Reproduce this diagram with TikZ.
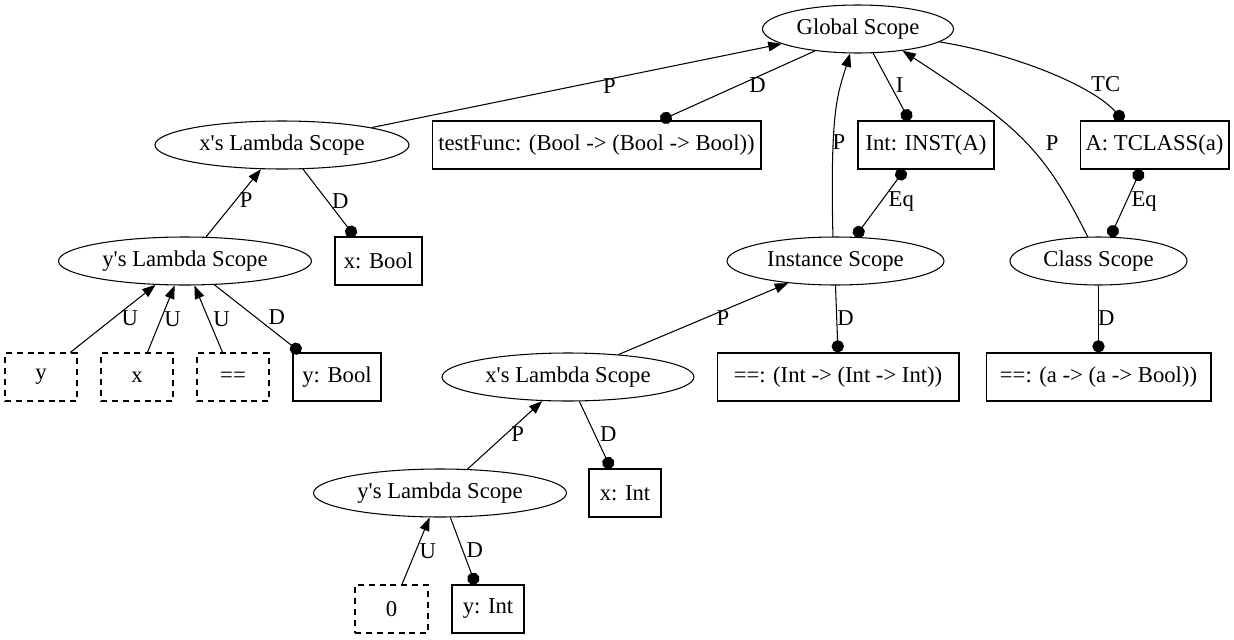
\documentclass[tikz,border=0pt]{standalone}
\usepackage{fontspec}
\setmainfont{Liberation Serif}
\usepackage{tikz}
\usetikzlibrary{shapes.geometric,arrows.meta}
\newcommand{\q}{\textquotesingle}
\tikzset{
  scopenode/.style={ellipse, draw, inner sep=0pt, minimum height=0.96cm},
  declbox/.style={rectangle, draw, inner sep=0pt, minimum height=0.96cm},
  usebox/.style={declbox, dash pattern=on 3.4pt off 2.8pt},
  parent/.style={-{Triangle[length=7.6pt,width=5.6pt]}},
  decl/.style={-{Circle[length=7pt]}},
  eqlink/.style={{Circle[length=7pt]}-{Circle[length=7pt]}},
  lbl/.style={inner sep=0pt},
}

\begin{document}
\begin{tikzpicture}[x=0.02cm, y=-0.02cm, line width=0.6pt, font=\fontsize{12.9}{15}\selectfont]
  \useasboundingbox (0,0) rectangle (1234,639);
  % Scopes
  \node[scopenode, minimum width=3.82cm] (gs)  at (858,29)    {Global Scope};
  \node[scopenode, minimum width=5.08cm] (xl1) at (282,145)   {x\q s Lambda Scope};
  \node[scopenode, minimum width=5.06cm] (yl1) at (185,261)   {y\q s Lambda Scope};
  \node[scopenode, minimum width=4.34cm] (is)  at (835.5,261) {Instance Scope};
  \node[scopenode, minimum width=3.54cm] (cs)  at (1098.5,261) {Class Scope};
  \node[scopenode, minimum width=5.04cm] (xl2) at (568,377)   {x\q s Lambda Scope};
  \node[scopenode, minimum width=5.06cm] (yl2) at (440,493)   {y\q s Lambda Scope};
  % Declarations
  \node[declbox, minimum width=6.58cm] (tf) at (596.5,145)  {testFunc: (Bool -> (Bool -> Bool))};
  \node[declbox, minimum width=2.72cm] (ia) at (926,145)    {Int: INST(A)};
  \node[declbox, minimum width=2.98cm] (tc) at (1154.5,145) {A: TCLASS(a)};
  \node[declbox, minimum width=1.74cm] (xb) at (378.5,261)  {x: Bool};
  \node[declbox, minimum width=1.76cm] (yb) at (337,377)    {y: Bool};
  \node[declbox, minimum width=4.84cm] (ei) at (838,377)    {==: (Int -> (Int -> Int))};
  \node[declbox, minimum width=4.50cm] (ea) at (1098.5,377) {==: (a -> (a -> Bool))};
  \node[declbox, minimum width=1.44cm] (xi) at (625,493)    {x: Int};
  \node[declbox, minimum width=1.44cm] (yi) at (488,609)    {y: Int};
  % Uses
  \node[usebox, minimum width=1.44cm] (yd)  at (41,377)    {y};
  \node[usebox, minimum width=1.44cm] (xd)  at (137,377)   {x};
  \node[usebox, minimum width=1.44cm] (eqd) at (233,377)   {==};
  \node[usebox, minimum width=1.46cm] (zd)  at (391.5,609) {0};
  % Global scope edges
  \draw[parent] (xl1.11) -- node[lbl, pos=.58, yshift=-4.3pt] {P} (gs.191);
  \draw[decl] (gs.207) -- node[lbl, pos=.49, xshift=10.4pt] {D} (tf.21);
  \draw[decl] (gs.302) -- node[lbl, pos=.47, xshift=5.4pt] {I} (ia.124);
  \draw[decl] (gs.351) .. controls +(80,13) and +(-29,-33) .. node[lbl, pos=.7, xshift=11.3pt, yshift=4pt] {TC} (tc.142);
  \draw[parent] (is.96) .. controls +(-3,-130) and +(-12,40) .. node[lbl, pos=.35, xshift=3.1pt, yshift=-3pt] {P} (gs.252);
  \draw[parent] (cs.114) .. controls +(-45,-90) and +(115,75) .. node[lbl, pos=.5, xshift=17.6pt, yshift=-2.8pt] {P} (gs.334);
  \draw[eqlink] (ia.229) -- node[lbl, pos=.48, xshift=11.6pt] {Eq} (is.51);
  \draw[eqlink] (tc.241) -- node[lbl, pos=.48, xshift=10.2pt] {Eq} (cs.64);
  % Lambda scopes on the left
  \draw[parent] (yl1.49) -- node[lbl, pos=.55, xshift=5.7pt] {P} (xl1.229);
  \draw[decl] (xl1.311) -- node[lbl, pos=.48, xshift=7pt] {D} (xb.134);
  \draw[parent] (yd.40) -- node[lbl, pos=.5, xshift=9.6pt] {U} (yl1.219);
  \draw[parent] (xd.67) -- node[lbl, pos=.5, xshift=6.6pt] {U} (yl1.247);
  \draw[parent] (eqd.113) -- node[lbl, pos=.5, xshift=7.4pt] {U} (yl1.291);
  \draw[decl] (yl1.321) -- node[lbl, pos=.48, xshift=11.9pt] {D} (yb.146);
  % Instance and class scopes
  \draw[parent] (xl2.24) -- node[lbl, pos=.51, xshift=10.2pt] {P} (is.205);
  \draw[decl] (is.south) -- node[lbl, pos=.48, xshift=5.1pt] {D} (ei.north);
  \draw[decl] (cs.south) -- node[lbl, pos=.48, xshift=4.5pt] {D} (ea.north);
  \draw[parent] (yl2.41) -- node[lbl, pos=.51, xshift=6.8pt] {P} (xl2.223);
  \draw[decl] (xl2.295) -- node[lbl, pos=.48, xshift=7.8pt] {D} (xi.120);
  \draw[parent] (zd.67) -- node[lbl, pos=.5, xshift=6.8pt] {U} (yl2.247);
  \draw[decl] (yl2.293) -- node[lbl, pos=.48, xshift=7pt] {D} (yi.117);
\end{tikzpicture}
\end{document}
